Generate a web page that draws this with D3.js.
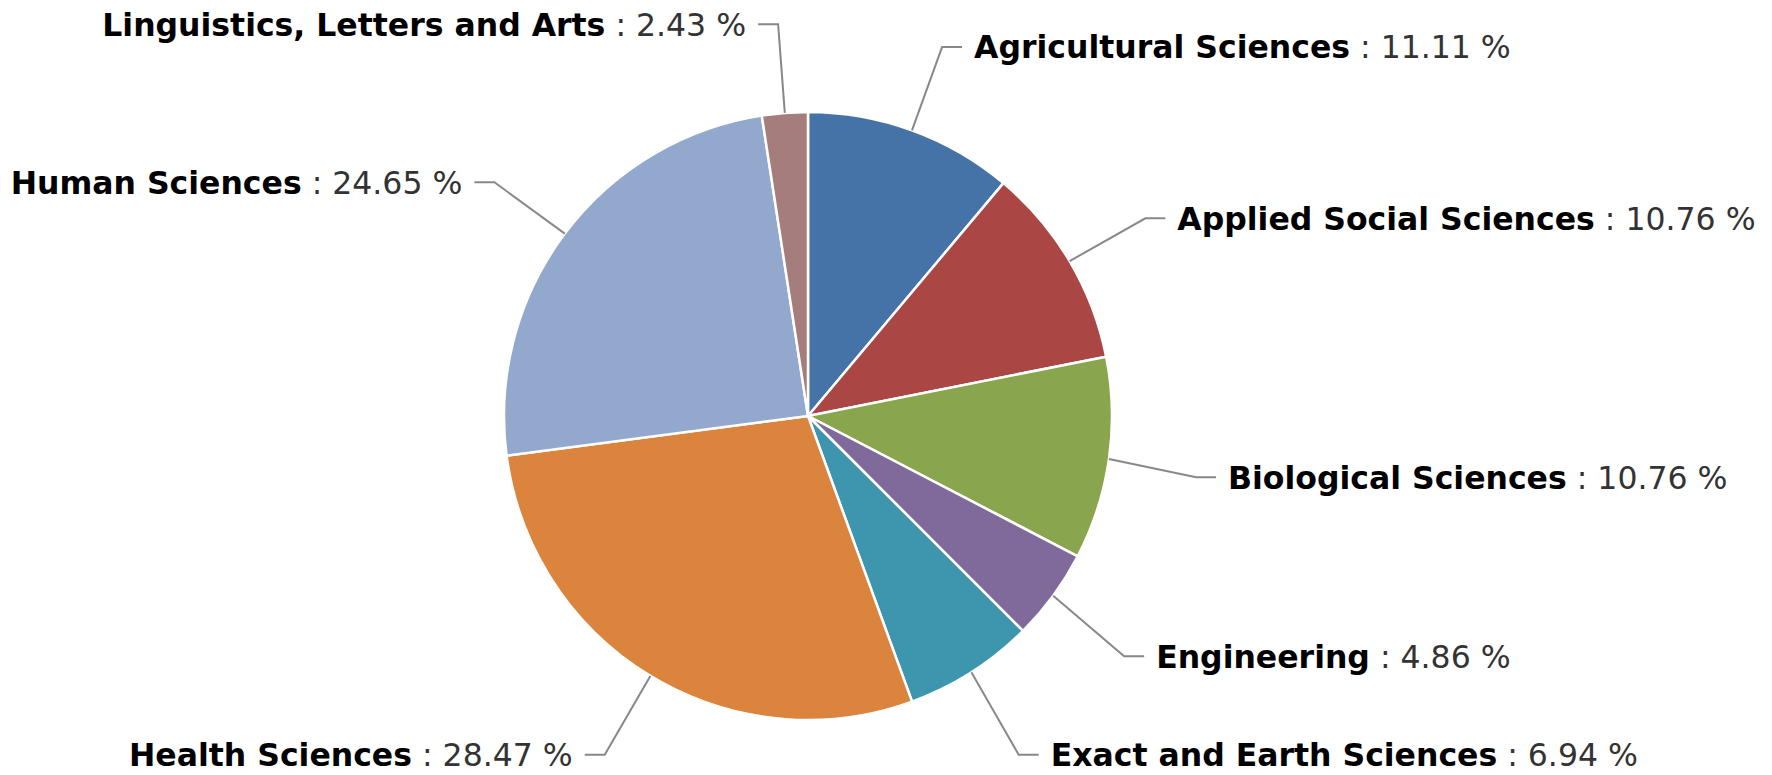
<!DOCTYPE html>
<html>
<head>
<meta charset="utf-8">
<script src="https://cdn.jsdelivr.net/npm/d3@7"></script>
<style>
  body { margin:0; background:#fff; }
  svg text { font-family: "DejaVu Sans", Verdana, sans-serif; }
</style>
</head>
<body>
<div id="chart"></div>
<script>
// areas and shares (%), clockwise from 12 o'clock
var categories = ["Agricultural Sciences","Applied Social Sciences","Biological Sciences","Engineering",
                  "Exact and Earth Sciences","Health Sciences","Human Sciences","Linguistics, Letters and Arts"];
var shares = [11.11, 10.76, 10.76, 4.86, 6.94, 28.47, 24.65, 2.43];
var valueLabels = ["11.11","10.76","10.76","4.86","6.94","28.47","24.65","2.43"];
var colors = ["#4572A7","#AA4643","#89A54E","#80699B","#3D96AE","#DB843D","#92A8CD","#A47D7C"];

var W = 1772, H = 775;
var cx = 808, cy = 416, radius = 304;
var labelDist = 88;   // elbow distance outside pie
var stub = 20, gap = 12;
var fontSize = 31.5;

var svg = d3.select("#chart").append("svg")
	.attr("width",W).attr("height",H);

var data = categories.map(function(c,i){ return {name:c, value:shares[i], label:valueLabels[i], color:colors[i]}; });

var pie = d3.pie().value(function(d){ return d.value; }).sort(null);
var arc = d3.arc().innerRadius(0).outerRadius(radius);
var arcs = pie(data);

var g = svg.append("g").attr("transform","translate("+cx+","+cy+")");

g.selectAll("path.slice")
	.data(arcs)
	.enter()
	.append("path")
	.attr("class","slice")
	.attr("d",arc)
	.attr("fill",function(d){ return d.data.color; })
	.attr("stroke","#fff")
	.attr("stroke-width",2.5)
	.attr("stroke-linejoin","round");

// connectors + labels
var maxBase = H - cy - 9;   // keep baselines inside the picture
arcs.forEach(function(d){
	var a = (d.startAngle+d.endAngle)/2;
	var ex = radius*Math.sin(a), ey = -radius*Math.cos(a);
	var ox = (radius+labelDist)*Math.sin(a), oy = -(radius+labelDist)*Math.cos(a);
	// labels sit a little lower the further down they are
	oy = oy*1.015 + 5;
	var base = Math.min(oy + fontSize*0.36, maxBase);
	oy = base - fontSize*0.36;
	var right = Math.sin(a) >= 0;
	var sx = ox + (right ? stub : -stub);

	g.append("path")
		.attr("d","M"+ex+","+ey+"L"+ox+","+oy+"L"+sx+","+oy)
		.attr("fill","none")
		.attr("stroke","#888")
		.attr("stroke-width",2);

	var t = g.append("text")
		.attr("x", sx + (right ? gap : -gap))
		.attr("y", base)
		.attr("text-anchor", right ? "start" : "end")
		.style("font-size", fontSize+"px");
	t.append("tspan")
		.style("font-weight","bold")
		.attr("fill","#000")
		.text(d.data.name);
	t.append("tspan")
		.attr("fill","#333")
		.text(" : "+d.data.label+" %");
});
</script>
</body>
</html>
